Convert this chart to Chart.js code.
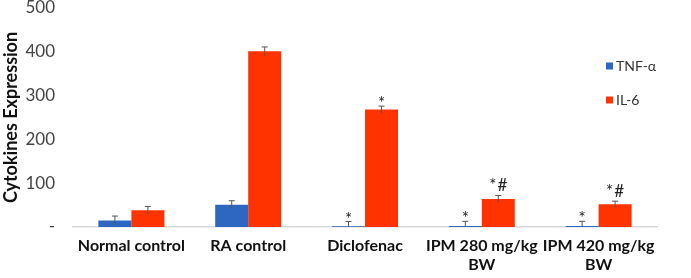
<!DOCTYPE html>
<html><head><meta charset="utf-8">
<script src="https://cdn.jsdelivr.net/npm/chart.js@4/dist/chart.umd.min.js"></script>
<style>html,body{margin:0;padding:0;background:#fff}#wrap{width:691px;height:278px}</style>
</head><body><div id="wrap"><canvas id="c"></canvas></div>
<script>
const categories = [["Normal control"], ["RA control"], ["Diclofenac"], ["IPM 280 mg/kg", "BW"], ["IPM 420 mg/kg", "BW"]];
const seriesNames = ["TNF-\u03b1", "IL-6"];
const tnfValues = [15, 51, 1.5, 2, 2];
const tnfErrors = [10, 9, 11, 11, 11];
const il6Values = [38, 401, 268, 64, 52];
const il6Errors = [9, 10, 8, 8, 7];
const tnfMarks = ["", "", "*", "*", "*"];
const il6Marks = ["", "", "*", "*#", "*#"];
const yTicks = [0, 100, 200, 300, 400, 500];
const colors = ["#2E67C2", "#FF3300"];
const FONT = "Lato, 'Open Sans', 'Liberation Sans', sans-serif";

const errorPlugin = {
  id: 'errs',
  afterDatasetsDraw(chart) {
    const ctx = chart.ctx;
    const y = chart.scales.y;
    const errs = [tnfErrors, il6Errors];
    const marks = [tnfMarks, il6Marks];
    ctx.save();
    chart.data.datasets.forEach((ds, di) => {
      const meta = chart.getDatasetMeta(di);
      meta.data.forEach((bar, i) => {
        const v = ds.data[i];
        const e = errs[di][i];
        const yt = y.getPixelForValue(v + e);
        const yb = y.getPixelForValue(Math.max(0, v - e));
        const x = bar.x;
        ctx.strokeStyle = '#555';
        ctx.lineWidth = 1;
        ctx.beginPath();
        ctx.moveTo(x, yb); ctx.lineTo(x, yt);
        ctx.moveTo(x - 3, yt); ctx.lineTo(x + 3, yt);
        ctx.stroke();
        const m = marks[di][i];
        if (m) {
          ctx.fillStyle = '#222';
          ctx.font = '17px ' + FONT;
          ctx.textAlign = 'center';
          ctx.textBaseline = 'alphabetic';
          const base = m.indexOf('#') >= 0 ? yt - 4 : yt + 3;
          ctx.fillText(m.split('').join('\u200A'), x, base);
        }
      });
    });
    ctx.font = '14px ' + FONT;
    ctx.textBaseline = 'middle';
    ctx.textAlign = 'left';
    const ly = [66, 100];
    seriesNames.forEach((n, i) => {
      ctx.fillStyle = colors[i];
      ctx.fillRect(606, ly[i] - 3.5, 7, 7);
      ctx.fillStyle = '#333';
      ctx.fillText(n, 616, ly[i]);
    });
    ctx.restore();
  }
};

new Chart(document.getElementById('c'), {
  type: 'bar',
  data: {
    labels: categories,
    datasets: [
      { label: seriesNames[0], data: tnfValues, backgroundColor: colors[0] },
      { label: seriesNames[1], data: il6Values, backgroundColor: colors[1] }
    ]
  },
  options: {
    responsive: true,
    maintainAspectRatio: false,
    animation: false,
    datasets: { bar: { categoryPercentage: 0.565, barPercentage: 1.0 } },
    layout: { padding: { top: 0, right: 34, left: 0, bottom: 0 } },
    plugins: { legend: { display: false }, tooltip: { enabled: false } },
    scales: {
      x: {
        grid: { display: false, drawTicks: false },
        border: { display: true, color: '#D9D9D9', width: 1.5 },
        ticks: { color: '#111', font: { family: FONT, size: 16, weight: 'bold' }, padding: 9, maxRotation: 0, autoSkip: false },
        afterFit(s) { s.height = 51; }
      },
      y: {
        min: 0, max: 500,
        grid: { display: false, drawTicks: false },
        border: { display: false },
        afterBuildTicks(s) { s.ticks = yTicks.map(v => ({ value: v })); },
        ticks: {
          color: '#444', font: { family: FONT, size: 17 }, padding: 18,
          callback: v => v === 0 ? '-' : String(v)
        },
        title: { display: true, text: 'Cytokines Expression', color: '#111', font: { family: FONT, size: 18, weight: 'bold' }, padding: { top: 0, bottom: 0 } },
        afterFit(s) { s.width = 73; s.paddingTop = 8; s.paddingBottom = 0; }
      }
    }
  },
  plugins: [errorPlugin]
});
</script></body></html>
